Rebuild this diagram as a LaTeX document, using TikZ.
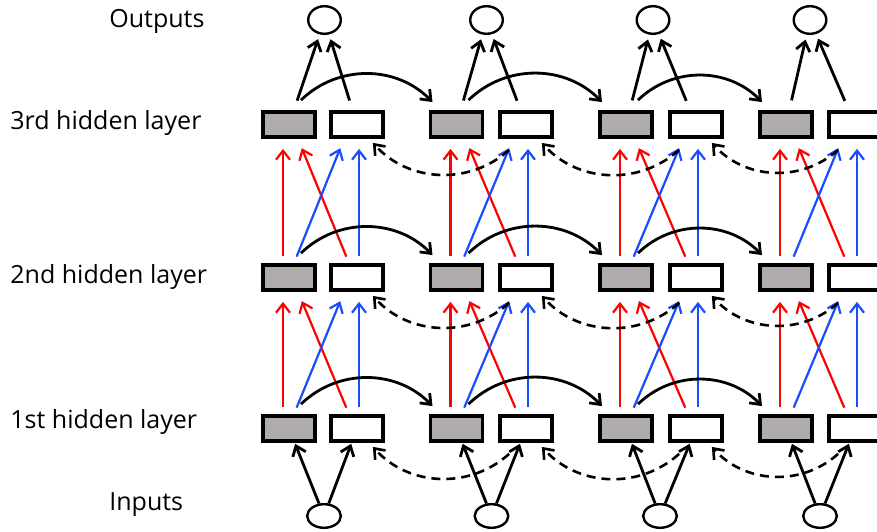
\documentclass[tikz,border=0pt]{standalone}
\usepackage{fontspec}
\setmainfont{Open Sans}
\usetikzlibrary{arrows.meta,shapes.geometric}
\definecolor{boxgray}{RGB}{176,172,172}
\definecolor{linkblue}{RGB}{25,75,255}

\begin{document}
\begin{tikzpicture}[
        x=0.5pt, y=0.5pt,
        >={Straight Barb[length=4.5pt,width=7pt]},
        every node/.style={font=\fontsize{12.5}{15}\selectfont},
        label/.style={anchor=base west, inner sep=0pt},
        fwbox/.style={draw, line width=1.9pt, fill=boxgray,
            minimum width=26pt, minimum height=12.5pt, inner sep=0pt},
        bwbox/.style={fwbox, fill=white},
        unit/.style={ellipse, draw, line width=1.2pt, inner sep=0pt},
        blk/.style={->, line width=1.4pt},
        redarr/.style={->, red, line width=1.1pt, shorten <=3.5pt, shorten >=5pt},
        bluearr/.style={redarr, linkblue},
        back/.style={->, line width=1.3pt, dash pattern=on 4.5pt off 3pt}
    ]
    \useasboundingbox (0,0) rectangle (877,531);

    % row labels
    \node[label] (lout) at (109,503) {Outputs};
    \node[label] (l3) at (10,401) {3rd hidden layer};
    \node[label] (l2) at (10,248) {2nd hidden layer};
    \node[label] (l1) at (10,103) {1st hidden layer};
    \node[label] (lin) at (109,21) {Inputs};

    % units: f = grey (forward), b = white (backward)
    \foreach \t/\gx/\wx/\ox/\ix in {1/289/357/324.5/324, 2/456.5/526/486.5/491.5,
                                   3/626/696/653/660, 4/786/855/810/820} {
        \node[unit, minimum width=16.3pt, minimum height=13.8pt] (y\t) at (\ox,511) {};
        \node[unit, minimum width=16.8pt, minimum height=11.8pt] (x\t) at (\ix,15) {};
        \foreach \l/\ly in {1/102.5, 2/253.5, 3/406.5} {
            \node[fwbox] (f\l\t) at (\gx,\ly) {};
            \node[bwbox] (b\l\t) at (\wx,\ly) {};
        }
    }

    % inputs, outputs, links between layers
    \foreach \t in {1,...,4} {
        \draw[blk, shorten >=0.5pt] (x\t) -- (f1\t);
        \draw[blk, shorten >=0.5pt] (x\t) -- (b1\t);
        \draw[blk, shorten <=5pt, shorten >=2.5pt] (f3\t) -- (y\t);
        \draw[blk, shorten <=5pt, shorten >=2.5pt] (b3\t) -- (y\t);
        \foreach \l/\u in {1/2, 2/3} {
            \draw[redarr] ([xshift=-3pt]f\l\t.north) -- ([xshift=-3pt]f\u\t.south);
            \draw[redarr] ([xshift=-4pt]b\l\t.north) -- ([xshift=4.5pt]f\u\t.south);
            \draw[bluearr] ([xshift=2.5pt]f\l\t.north) -- ([xshift=-6.5pt]b\u\t.south);
            \draw[bluearr] ([xshift=1pt]b\l\t.north) -- ([xshift=1pt]b\u\t.south);
        }
    }

    % recurrences in time
    \foreach \t/\n in {1/2, 2/3, 3/4} {
        \foreach \l in {1,2,3} {
            \draw[blk] ([xshift=6pt,yshift=5pt]f\l\t.north) to[bend left=45]
                ([xshift=-12pt,yshift=4pt]f\l\n.north);
            \draw[back] ([xshift=5.5pt,yshift=-5.5pt]b\l\n.south west) to[bend left=45]
                ([xshift=-6pt,yshift=-2pt]b\l\t.south east);
        }
    }
\end{tikzpicture}
\end{document}
